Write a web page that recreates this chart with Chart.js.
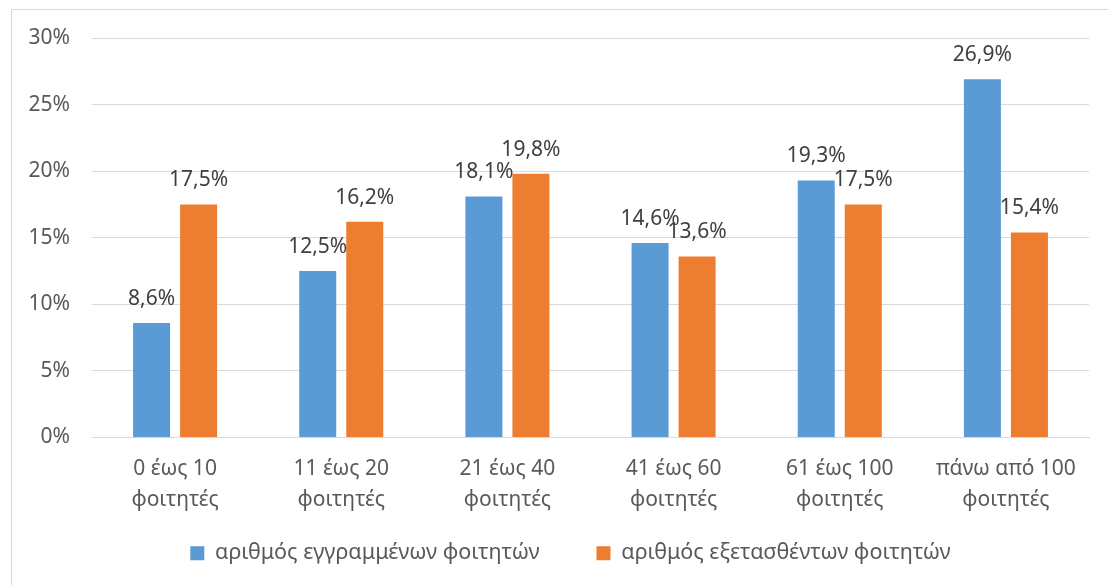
<!DOCTYPE html>
<html>
<head>
<meta charset="utf-8">
<script src="https://cdn.jsdelivr.net/npm/chart.js@4.4.0/dist/chart.umd.min.js"></script>
<style>
  html, body { margin: 0; padding: 0; background: #fff; overflow: hidden; }
  #frame { position: absolute; left: 11px; top: 9px; width: 1200px; height: 700px; border: 1px solid #D9D9D9; }
  #wrap { position: absolute; left: 0; top: 0; width: 1108px; height: 585px; }
</style>
</head>
<body>
<div id="frame"></div>
<div id="wrap"><canvas id="chart"></canvas></div>
<script>
// categories and values
var categories = [
  ['0 έως 10', 'φοιτητές'],
  ['11 έως 20', 'φοιτητές'],
  ['21 έως 40', 'φοιτητές'],
  ['41 έως 60', 'φοιτητές'],
  ['61 έως 100', 'φοιτητές'],
  ['πάνω από 100', 'φοιτητές']
];
var seriesNames = ['αριθμός εγγραμμένων φοιτητών', 'αριθμός εξετασθέντων φοιτητών'];
var registered = [8.6, 12.5, 18.1, 14.6, 19.3, 26.9];
var examined = [17.5, 16.2, 19.8, 13.6, 17.5, 15.4];
var yTicks = [0, 5, 10, 15, 20, 25, 30];

var FONT = '"Noto Sans", "Open Sans", sans-serif';

// value labels above each bar
var valueLabels = {
  id: 'valueLabels',
  afterDatasetsDraw: function (chart) {
    var ctx = chart.ctx;
    ctx.save();
    ctx.font = '21px ' + FONT;
    ctx.fillStyle = '#404040';
    ctx.textAlign = 'center';
    ctx.textBaseline = 'alphabetic';
    chart.data.datasets.forEach(function (ds, i) {
      chart.getDatasetMeta(i).data.forEach(function (bar, j) {
        var txt = ds.data[j].toFixed(1).replace('.', ',') + '%';
        ctx.fillText(txt, bar.x, bar.y - 18);
      });
    });
    ctx.restore();
  }
};

// nudge the legend a bit to the right, like the original
var legendShift = {
  id: 'legendShift',
  afterLayout: function (chart) {
    if (chart.legend) {
      chart.legend.left += 26;
      chart.legend.right += 26;
    }
  }
};

var ctx = document.getElementById('chart');
new Chart(ctx, {
  type: 'bar',
  data: {
    labels: categories,
    datasets: [{
      label: seriesNames[0],
      data: registered,
      backgroundColor: '#5B9BD5',
      barPercentage: 0.787,
      categoryPercentage: 0.566
    }, {
      label: seriesNames[1],
      data: examined,
      backgroundColor: '#ED7D31',
      barPercentage: 0.787,
      categoryPercentage: 0.566
    }]
  },
  options: {
    responsive: true,
    maintainAspectRatio: false,
    animation: false,
    layout: { padding: { left: 0, right: 19, top: 38, bottom: 11 } },
    plugins: {
      legend: {
        position: 'bottom',
        labels: {
          boxWidth: 14,
          boxHeight: 14,
          padding: 57,
          color: '#595959',
          font: { family: FONT, size: 21.5 }
        }
      },
      tooltip: { enabled: false }
    },
    scales: {
      x: {
        grid: { display: false },
        border: { color: '#D9D9D9' },
        ticks: {
          color: '#595959',
          padding: 9,
          maxRotation: 0,
          font: { family: FONT, size: 21, lineHeight: 1.43 }
        },
        afterFit: function (scale) {
          scale.height = 48;
          // let the two-line labels run into the legend's empty top band
          scale._computeLabelArea = function () {};
        }
      },
      y: {
        min: 0,
        max: 30,
        afterBuildTicks: function (scale) {
          scale.ticks = yTicks.map(function (v) { return { value: v }; });
        },
        grid: { color: '#D9D9D9', drawTicks: false },
        border: { display: false },
        ticks: {
          color: '#595959',
          padding: 22,
          font: { family: FONT, size: 21 },
          callback: function (v) { return v + '%'; }
        },
        afterFit: function (scale) { scale.width = 92; }
      }
    }
  },
  plugins: [valueLabels, legendShift]
});
</script>
</body>
</html>
